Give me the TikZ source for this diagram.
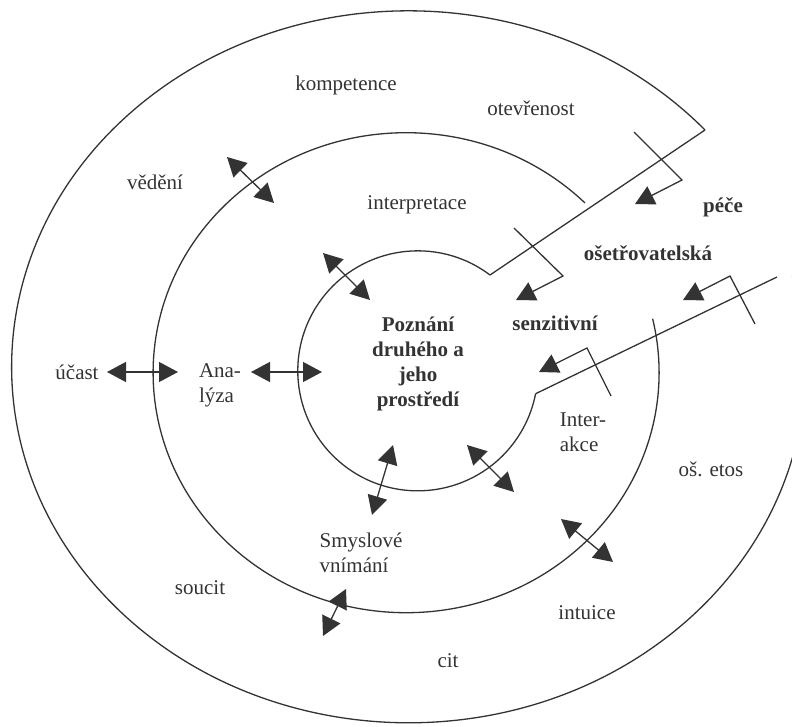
\documentclass[tikz,border=0pt]{standalone}
\usepackage{fontspec}
\setmainfont{Liberation Serif}
\usetikzlibrary{arrows.meta}

\begin{document}
\begin{tikzpicture}[x=0.5pt, y=-0.5pt, line width=0.65pt, color=black!80,
    every node/.style={font=\fontsize{10.5}{12.4}\selectfont, text=black!80, inner sep=0pt},
    keyword/.style={font=\fontsize{10.5}{12.4}\selectfont\bfseries},
    both/.style={{Triangle[length=9.5pt,width=10pt]}-{Triangle[length=9.5pt,width=10pt]}},
    bent/.style={-{Triangle[length=9.5pt,width=10pt]}}]

          \useasboundingbox (0,0) rectangle (792,727);

          % the three rings, open on the right
          \draw (705,130) coordinate (outerStart)
            arc[start angle=-41.7, end angle=-374.8, x radius=397, y radius=356];
          \draw (585,203) coordinate (midStart)
            arc[start angle=-45, end angle=-373, x radius=253, y radius=240];
          \draw (490,275) coordinate (innerStart)
            arc[start angle=-53, end angle=-349, radius=120] coordinate (innerEnd);

          % the two spokes
          \coordinate (spokeEnd) at (777,277);
          \draw (innerStart) -- (outerStart);
          \draw (innerEnd) -- (spokeEnd);

          % cross marks with bent arrows
          \draw [bent] (634,132) -- (682,180) -- (635,204);
          \draw [bent] (514,228) -- (563,276) -- (516,300);
          \draw [bent] (755,324) -- (730,276) -- (683,300);
          \draw [bent] (611,396) -- (587,348) -- (539,372);

          % double arrows across the rings
          \draw [both] (227,157) -- (274,203);
          \draw [both] (323,253) -- (370,300);
          \draw [both] (107,372) -- (178,372);
          \draw [both] (251,372) -- (322,372);
          \draw [both] (393,445) -- (372,515);
          \draw [both] (467,445) -- (514,492);
          \draw [both] (561,519) -- (613,562);
          \draw [both] (346,589) -- (323,636);

          % labels
          \node (kompetence) at (346,85) {kompetence};
          \node (otevrenost) at (531,108) {otevřenost};
          \node (vedeni) at (155,182) {vědění};
          \node (interpretace) at (417,205) {interpretace};
          \node[keyword] (pece) at (723,207) {péče};
          \node[keyword] (osetrovatelska) at (648,253) {ošetřovatelská};
          \node[keyword] (senzitivni) at (555,323) {senzitivní};
          \node[keyword, align=center] (poznani) at (418,364)
            {Poznání\\druhého a\\jeho\\prostředí};
          \node (ucast) at (77,372) {účast};
          \node[align=left] (analyza) at (220,385) {Ana-\\lýza};
          \node[align=left] (interakce) at (583,432) {Inter-\\akce};
          \node (etos) at (711,469) {oš. etos};
          \node[align=left] (smyslove) at (361,553) {Smyslové\\vnímání};
          \node (soucit) at (200,588) {soucit};
          \node (intuice) at (587,613) {intuice};
          \node (cit) at (448,661) {cit};

        \end{tikzpicture}
\end{document}
